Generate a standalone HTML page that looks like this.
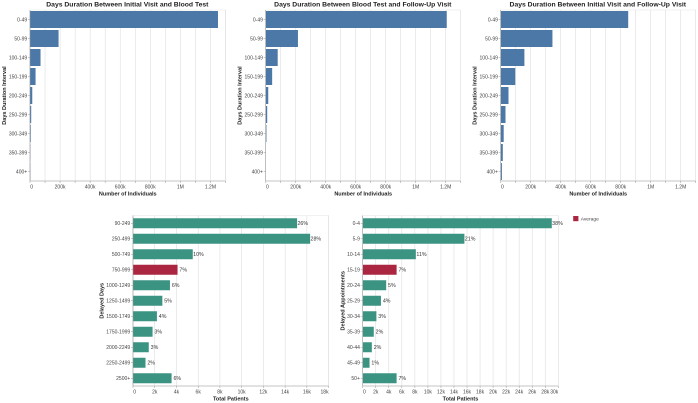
<!DOCTYPE html>
<html>
<head>
<meta charset="utf-8">
<style>
html,body{margin:0;padding:0;background:#fff;}
svg{display:block;font-family:"Liberation Sans",Arial,sans-serif;filter:blur(0.25px);}
</style>
</head>
<body>
<svg id="root" xmlns="http://www.w3.org/2000/svg" width="698" height="403" viewBox="0 0 698 403"></svg>
<script>
const durationCategories = ['0-49','50-99','100-149','150-199','200-249','250-299','300-349','350-399','400+'];
const durationTicks = [0,200000,400000,600000,800000,1000000,1200000];
const durationTickLabels = ['0','200k','400k','600k','800k','1M','1.2M'];
const bloodTestValues = [1250000,190000,70000,37000,15000,8000,5000,2000,1000];
const followUpValues = [1207000,215000,80000,43000,17000,10000,5000,1500,1000];
const totalValues = [850000,345000,158000,97000,52000,32000,20000,14000,8000];

const delayedDaysCategories = ['90-249','250-499','500-749','750-999','1000-1249','1250-1499','1500-1749','1750-1999','2000-2249','2250-2499','2500+'];
const delayedDaysValues = [15100,16300,5500,4100,3400,2700,2200,1800,1450,1150,3550];
const delayedDaysPercents = ['26%','28%','10%','7%','6%','5%','4%','3%','3%','2%','6%'];
const delayedDaysTicks = [0,2000,4000,6000,8000,10000,12000,14000,16000,18000];
const delayedDaysTickLabels = ['0','2k','4k','6k','8k','10k','12k','14k','16k','18k'];

const delayedApptCategories = ['0-4','5-9','10-14','15-19','20-24','25-29','30-34','35-39','40-44','45-49','50+'];
const delayedApptValues = [29000,15600,8150,5200,3600,2800,2100,1700,1400,1050,5200];
const delayedApptPercents = ['38%','21%','11%','7%','5%','4%','3%','2%','2%','1%','7%'];
const delayedApptTicks = [0,2000,4000,6000,8000,10000,12000,14000,16000,18000,20000,22000,24000,26000,28000,30000];
const delayedApptTickLabels = ['0','2k','4k','6k','8k','10k','12k','14k','16k','18k','20k','22k','24k','26k','28k','30k'];

const NS = 'http://www.w3.org/2000/svg';
const root = document.getElementById('root');

function node(parent, tag, props, text) {
  const el = document.createElementNS(NS, tag);
  for (const k in props) el.setAttribute(k, props[k]);
  if (text !== undefined) el.textContent = text;
  parent.appendChild(el);
  return el;
}

function drawChart(c) {
  const g = node(root, 'g', {});
  
  
  const right = c.x + c.w, bottom = c.y + c.h;
  const xs = v => c.x + v / c.max * c.w;
  const step = c.h / c.cats.length;
  const ys = i => c.y + step * (i + 0.5);

  const frame = node(g, 'rect', {x:c.x, y:c.y, width:c.w, height:c.h, fill:'none', stroke:'#e4e4e4', 'stroke-width':0.5});
  
  

  c.grid.forEach(t => {
    const line = node(g, 'line', {x1:xs(t), x2:xs(t), y1:c.y, y2:bottom, stroke:'#dedede', 'stroke-width':0.6});
    
    
    const tick = node(g, 'line', {x1:xs(t), x2:xs(t), y1:bottom, y2:bottom + 2, stroke:'#999', 'stroke-width':0.5});
    
    
  });

  c.vals.forEach((v, i) => {
    const isAvg = c.avg === i;
    const bar = node(g, 'rect', {x:c.x, y:ys(i) - c.barH / 2, width:Math.max(xs(v) - c.x, 0.3), height:c.barH, fill:isAvg ? '#ab2640' : c.color});
    
    
    if (c.pcts) {
      const lab = node(g, 'text', {x:xs(v) + 5.7, y:ys(i) + 1.9, 'font-size':5.3, fill:'#333', 'text-anchor':'middle'}, c.pcts[i]);
      
      
    }
  });

  const xAxis = node(g, 'line', {x1:c.x, x2:right, y1:bottom, y2:bottom, stroke:'#999', 'stroke-width':0.6});
  
  
  const yAxis = node(g, 'line', {x1:c.x, x2:c.x, y1:c.y, y2:bottom, stroke:'#999', 'stroke-width':0.6});
  
  

  c.ticks.forEach((t, i) => {
    let anchor = 'middle', tx = xs(t);
    if (i === 0) { anchor = 'start'; tx = xs(t) + 0.3; }
    if (t === c.max) { anchor = 'end'; }
    const lab = node(g, 'text', {x:tx, y:bottom + 7.5, 'font-size':5, fill:'#444', 'text-anchor':anchor}, c.tickLabels[i]);
    
    
  });

  c.cats.forEach((cat, i) => {
    const tick = node(g, 'line', {x1:c.x - 2, x2:c.x, y1:ys(i), y2:ys(i), stroke:'#999', 'stroke-width':0.5});
    
    
    const lab = node(g, 'text', {x:c.x - 2.8, y:ys(i) + 1.8, 'font-size':5, fill:'#444', 'text-anchor':'end'}, cat);
    
    
  });

  const xTitle = node(g, 'text', {x:c.x + c.w / 2, y:bottom + 14.3, 'font-size':5.5, 'font-weight':'bold', fill:'#222', 'text-anchor':'middle'}, c.xTitle);
  
  

  const yx = c.yTitleX, yy = c.y + c.h / 2;
  const yTitle = node(g, 'text', {x:yx, y:yy, 'font-size':5.5, 'font-weight':'bold', fill:'#222', 'text-anchor':'middle', transform:'rotate(-90 ' + yx + ' ' + yy + ')'}, c.yTitle);
  
  

  if (c.title) {
    const title = node(g, 'text', {x:c.x + c.w / 2 - 0.4, y:c.y - 3.5, 'font-size':6.8, 'font-weight':'bold', fill:'#222', 'text-anchor':'middle'}, c.title);
    
    
  }
}

function hundredK() {
  const out = [];
  for (let v = 0; v <= 1300000; v += 100000) out.push(v);
  return out;
}

const blue = '#4c78a8', teal = '#3b9382';

drawChart({id:'blood-test-chart', x:30, y:10, w:195.5, h:171, max:1300000, cats:durationCategories, vals:bloodTestValues,
  ticks:durationTicks, tickLabels:durationTickLabels, grid:hundredK(), barH:17, color:blue,
  title:'Days Duration Between Initial Visit and Blood Test', xTitle:'Number of Individuals', yTitle:'Days Duration Interval', yTitleX:6});
drawChart({id:'follow-up-chart', x:265.7, y:10, w:195, h:171, max:1300000, cats:durationCategories, vals:followUpValues,
  ticks:durationTicks, tickLabels:durationTickLabels, grid:hundredK(), barH:17, color:blue,
  title:'Days Duration Between Blood Test and Follow-Up Visit', xTitle:'Number of Individuals', yTitle:'Days Duration Interval', yTitleX:241.3});
drawChart({id:'initial-to-follow-up-chart', x:500.7, y:10, w:195, h:171, max:1300000, cats:durationCategories, vals:totalValues,
  ticks:durationTicks, tickLabels:durationTickLabels, grid:hundredK(), barH:17, color:blue,
  title:'Days Duration Between Initial Visit and Follow-Up Visit', xTitle:'Number of Individuals', yTitle:'Days Duration Interval', yTitleX:476.3});
drawChart({id:'delayed-days-chart', x:133, y:215.5, w:195.6, h:170.5, max:18000, cats:delayedDaysCategories, vals:delayedDaysValues,
  pcts:delayedDaysPercents, ticks:delayedDaysTicks, tickLabels:delayedDaysTickLabels, grid:delayedDaysTicks, barH:10, color:teal, avg:3,
  xTitle:'Total Patients', yTitle:'Delayed Days', yTitleX:103.7});
drawChart({id:'delayed-appointments-chart', x:362.7, y:215.5, w:195.6, h:170.5, max:30000, cats:delayedApptCategories, vals:delayedApptValues,
  pcts:delayedApptPercents, ticks:delayedApptTicks, tickLabels:delayedApptTickLabels, grid:delayedApptTicks, barH:10, color:teal, avg:3,
  xTitle:'Total Patients', yTitle:'Delayed Appointments', yTitleX:344.5});

const legendSwatch = node(root, 'rect', {x:573.2, y:216, width:5.2, height:5.2, fill:'#ab2640'});


const legendLabel = node(root, 'text', {x:580.7, y:220.4, 'font-size':4.9, fill:'#444'}, 'Average');


</script>
</body>
</html>
